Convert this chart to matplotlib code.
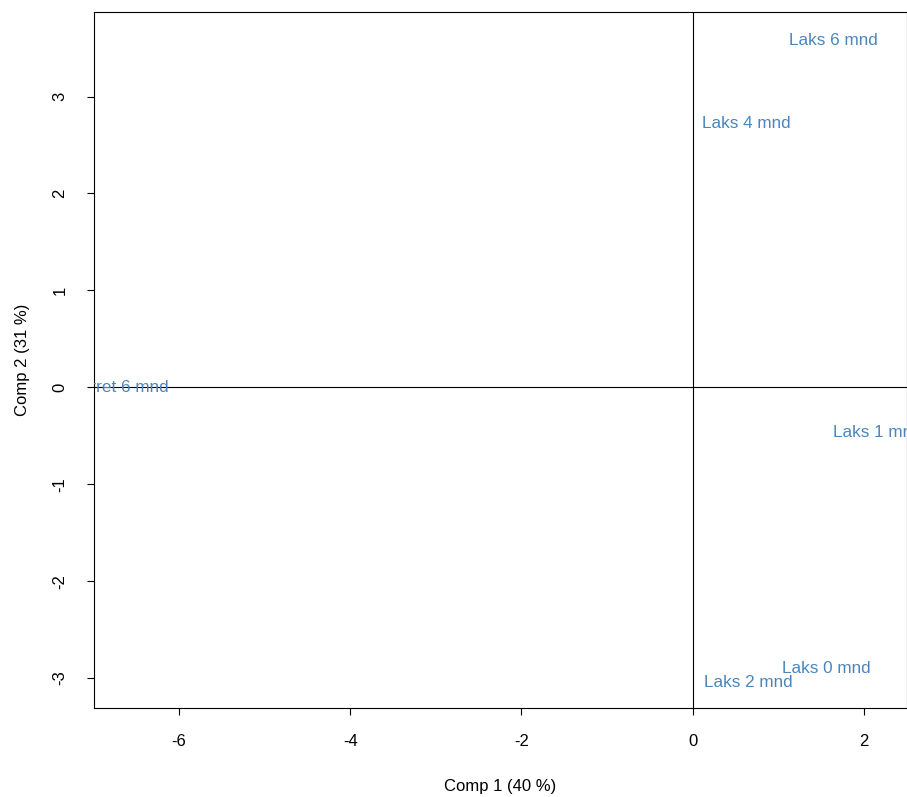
import matplotlib
matplotlib.use("Agg")
import matplotlib.pyplot as plt

plt.rcParams['font.family'] = ['Liberation Sans', 'DejaVu Sans']

# PCA scores (comp 1, comp 2)
labels = ["Laks 6 mnd", "Laks 4 mnd", "Laks 1 mnd", "Laks 0 mnd", "Laks 2 mnd", "Ørret 6 mnd"]
comp1 = [1.64, 0.63, 2.15, 1.56, 0.65, -6.65]
comp2 = [3.58, 2.72, -0.47, -2.90, -3.05, 0.00]

xticks = [-6, -4, -2, 0, 2]
yticks = [-3, -2, -1, 0, 1, 2, 3]

fig = plt.figure(figsize=(9.07, 7.97), dpi=100)
ax = fig.add_axes([94 / 907, 1 - 708 / 797, 1 - 94 / 907, (708 - 12) / 797])

ax.set_xlim(-6.99, 2.5)
ax.set_ylim(-3.31, 3.873)

ax.axhline(0, color='black', lw=0.8)
ax.axvline(0, color='black', lw=0.8)

# labels are clipped to the plot region, like in the original
for lab, x, y in zip(labels, comp1, comp2):
    ax.text(x, y, lab, color='#4a86bd', fontsize=12.3, ha='center', va='center', clip_on=True)

ax.set_xticks(xticks)
ax.set_yticks(yticks)
ax.set_xticklabels([str(t) for t in xticks])
ax.set_yticklabels([str(t) for t in yticks], rotation=90, va='center')
ax.tick_params(axis='both', direction='out', length=5, width=0.8, labelsize=12)
ax.tick_params(axis='x', pad=13.5)
ax.tick_params(axis='y', pad=14)
for s in ax.spines.values():
    s.set_linewidth(0.8)

ax.set_xlabel("Comp 1 (40 %)", fontsize=12, labelpad=22)
ax.set_ylabel("Comp 2 (31 %)", fontsize=12, labelpad=16)

fig.savefig("out.png", dpi=100)
